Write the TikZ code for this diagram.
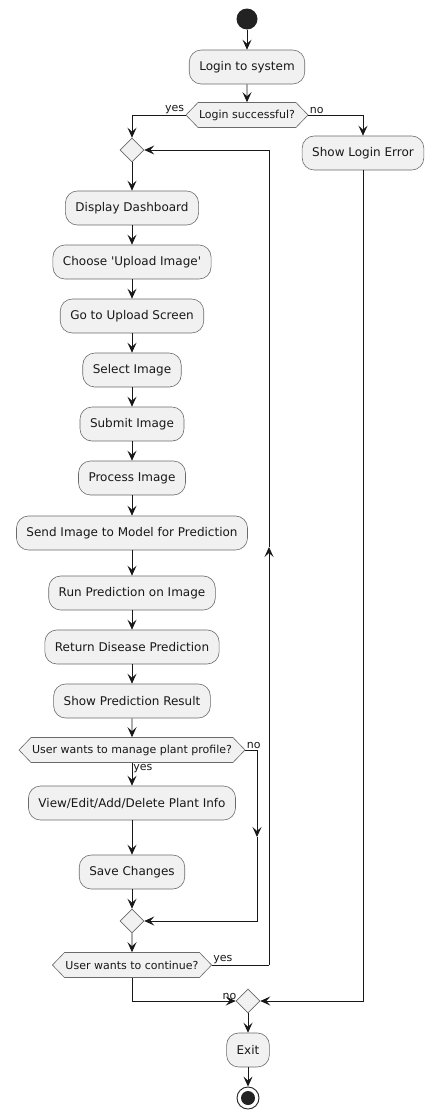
\documentclass[tikz,border=0pt]{standalone}
\usepackage{fontspec}
\setmainfont{DejaVu Sans}
\usetikzlibrary{shapes.geometric,shapes.symbols,arrows.meta}
\definecolor{boxfill}{HTML}{F1F1F1}
\definecolor{boxline}{HTML}{6A6A6A}
\definecolor{ink}{HTML}{181818}
\definecolor{dot}{HTML}{222222}
\tikzset{
  act/.style={draw=boxline, line width=0.6pt, fill=boxfill, rounded corners=12pt,
    minimum height=34pt, inner xsep=10pt, font=\fontsize{12pt}{14pt}\selectfont, text=ink},
  cond/.style={draw=boxline, line width=0.6pt, fill=boxfill, signal, signal to=west and east,
    signal pointer angle=92, minimum height=25pt, inner xsep=1pt, inner ysep=0pt,
    font=\fontsize{11pt}{13pt}\selectfont, text=ink},
  merge/.style={draw=boxline, line width=0.6pt, fill=boxfill, diamond, inner sep=0pt,
    minimum width=24pt, minimum height=24pt},
  arr/.style={draw=ink, line width=0.9pt, -{Stealth[length=10pt,width=9pt,inset=4pt]}},
  ln/.style={draw=ink, line width=0.9pt},
  lbl/.style={font=\fontsize{11pt}{13pt}\selectfont, text=ink, inner sep=1pt},
}
\begin{document}
\begin{tikzpicture}[x=1pt,y=-1pt]
\useasboundingbox (0,0) rectangle (434,1119);
\node[circle, fill=dot, minimum size=21pt, inner sep=0pt] (start) at (247,19) {};
\node[act] (login) at (247,67) {Login to system};
\node[cond] (dec1) at (247,115) {Login successful?};
\node[merge] (m1) at (132,150) {};
\node[act] (err) at (363,153) {Show Login Error};
\node[act] (dash) at (132,208) {Display Dashboard};
\node[act] (choose) at (132,262) {Choose \textquotesingle Upload Image\textquotesingle};
\node[act] (goto) at (132,316) {Go to Upload Screen};
\node[act] (select) at (132,370) {Select Image};
\node[act] (submit) at (132,424) {Submit Image};
\node[act] (process) at (132,478) {Process Image};
\node[act] (send) at (132,533) {Send Image to Model for Prediction};
\node[act] (run) at (132,593) {Run Prediction on Image};
\node[act] (ret) at (132,647) {Return Disease Prediction};
\node[act] (show) at (132,701) {Show Prediction Result};
\node[cond] (dec2) at (132,750) {User wants to manage plant profile?};
\node[act] (view) at (132,803) {View/Edit/Add/Delete Plant Info};
\node[act] (save) at (132,872) {Save Changes};
\node[merge] (m2) at (132,921) {};
\node[cond] (dec3) at (132,965) {User wants to continue?};
\node[merge] (m3) at (248,1001) {};
\node[act] (exit) at (248,1050) {Exit};
\node[circle, draw=dot, line width=0.9pt, fill=white, minimum size=22pt, inner sep=0pt] (stop) at (248,1098) {};
\node[circle, fill=dot, minimum size=14pt, inner sep=0pt] at (stop) {};

\coordinate (n2a) at (257,750);
\coordinate (n2m) at (257,837);
\coordinate (n2b) at (257,921);
\coordinate (y3a) at (269,965);
\coordinate (y3m) at (269,547);
\coordinate (y3b) at (269,150);
\coordinate (n3a) at (132,1001);
\coordinate (ea) at (363,1001);

\draw[arr] (start) -- (login);
\draw[arr] (login) -- (dec1);
\draw[arr] (dec1.west) -| (m1.north) node[lbl, pos=0, anchor=south east] {yes};
\draw[arr] (dec1.east) -| (err.north) node[lbl, pos=0, anchor=south west] {no};
\draw[arr] (m1) -- (dash);
\draw[arr] (dash) -- (choose);
\draw[arr] (choose) -- (goto);
\draw[arr] (goto) -- (select);
\draw[arr] (select) -- (submit);
\draw[arr] (submit) -- (process);
\draw[arr] (process) -- (send);
\draw[arr] (send) -- (run);
\draw[arr] (run) -- (ret);
\draw[arr] (ret) -- (show);
\draw[arr] (show) -- (dec2);
\draw[arr] (dec2.south) -- (view) node[lbl, pos=0, anchor=north west] {yes};
\draw[arr] (view) -- (save);
\draw[arr] (save) -- (m2);
\draw[ln] (dec2.east) -- (n2a) node[lbl, pos=0, anchor=south west] {no};
\draw[arr] (n2a) -- (n2m);
\draw[arr] (n2m) -- (n2b) -- (m2.east);
\draw[arr] (m2) -- (dec3);
\draw[ln] (dec3.east) -- (y3a) node[lbl, pos=0, anchor=south west] {yes};
\draw[arr] (y3a) -- (y3m);
\draw[arr] (y3m) -- (y3b) -- (m1.east);
\draw[arr] (dec3.south) -- (n3a) -- (m3.west) node[lbl, pos=1, anchor=south east, xshift=2pt] {no};
\draw[arr] (err.south) -- (ea) -- (m3.east);
\draw[arr] (m3) -- (exit);
\draw[arr] (exit) -- (stop);
\end{tikzpicture}
\end{document}
